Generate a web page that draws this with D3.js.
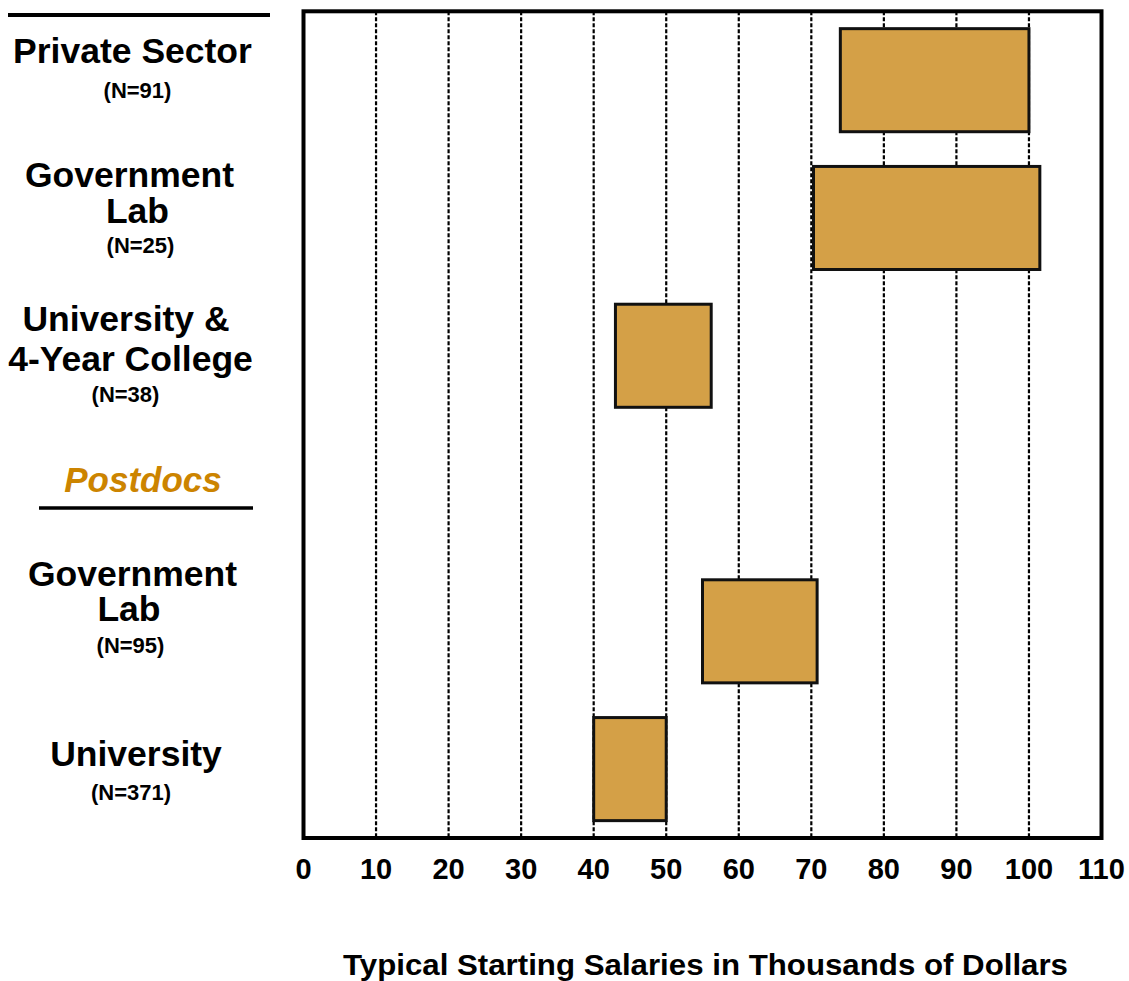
<!DOCTYPE html>
<meta charset="utf-8">
<style>
body{margin:0;background:#fff;}
svg text{font-family:"Liberation Sans",Arial,sans-serif;font-weight:bold;fill:#000;}
</style>
<svg id="chart" width="1129" height="981"></svg>
<script src="https://d3js.org/d3.v7.min.js"></script>
<script>
// salary ranges by employer type, thousands of dollars
const rows = ["private", "govlab", "univ", "postdocs", "pdGovlab", "pdUniv"]
const labelLines = [["Private Sector"], ["Government", "Lab"], ["University &", "4-Year College"], [], ["Government", "Lab"], ["University"]]
const sampleSizes = [91, 25, 38, null, 95, 371]
const lowValues = [74, 70.3, 43, null, 55, 40]
const highValues = [100, 101.5, 56.2, null, 70.8, 50]
const tickValues = [0, 10, 20, 30, 40, 50, 60, 70, 80, 90, 100, 110]

// layout of the label block beside each row (baseline offset from band centre, x centre)
const lineLayout = [
  [[-17, 132.5]],
  [[-30.5, 129.5], [5.5, 137.5]],
  [[-24.5, 126], [15.5, 130.5]],
  [],
  [[-45.5, 132.5], [-10.5, 129]],
  [[-3, 136]]
]
const nLayout = [[18, 137.5], [35.5, 140.5], [46.5, 125.5], null, [21.5, 130.5], [31, 131]]

let svg = d3.select('#chart')
let x = d3.scaleLinear().domain([0, 110]).range([303.5, 1101.5])
let y = d3.scaleBand().domain(rows).range([11.3, 838]).paddingInner(0.252).paddingOuter(0.126)
let mid = r => y(r) + y.bandwidth() / 2

// dotted grid
svg.append('g').selectAll('line').data(tickValues.slice(1, -1)).join('line')
  .attr('x1', d => x(d)).attr('x2', d => x(d))
  .attr('y1', 11.3).attr('y2', 838)
  .attr('stroke', '#000').attr('stroke-width', 2.2).attr('stroke-dasharray', '4,2')

// bars
let barData = rows.map((r, i) => ({r, lo: lowValues[i], hi: highValues[i]})).filter(d => d.lo != null)
svg.append('g').selectAll('rect').data(barData).join('rect')
  .attr('x', d => x(d.lo)).attr('width', d => x(d.hi) - x(d.lo))
  .attr('y', d => y(d.r)).attr('height', y.bandwidth())
  .attr('fill', '#d4a047').attr('stroke', '#111').attr('stroke-width', 3)

// frame
svg.append('rect')
  .attr('x', x(0)).attr('y', 11.3).attr('width', x(110) - x(0)).attr('height', 838 - 11.3)
  .attr('fill', 'none').attr('stroke', '#000').attr('stroke-width', 4)

// tick labels
svg.append('g').selectAll('text').data(tickValues).join('text')
  .attr('x', d => x(d)).attr('y', 879)
  .attr('text-anchor', 'middle').style('font-size', '29px')
  .text(d => d)

svg.append('text')
  .attr('x', 705.5).attr('y', 975).attr('text-anchor', 'middle')
  .attr('textLength', 725).attr('lengthAdjust', 'spacingAndGlyphs')
  .style('font-size', '30px')
  .text('Typical Starting Salaries in Thousands of Dollars')

// row labels
let lab = svg.append('g')
rows.forEach((r, i) => {
  labelLines[i].forEach((line, j) => {
    lab.append('text')
      .attr('x', lineLayout[i][j][1]).attr('y', mid(r) + lineLayout[i][j][0])
      .attr('text-anchor', 'middle').style('font-size', '35.5px')
      .text(line)
  })
  if (sampleSizes[i] != null) {
    lab.append('text')
      .attr('x', nLayout[i][1]).attr('y', mid(r) + nLayout[i][0])
      .attr('text-anchor', 'middle').style('font-size', '22px')
      .text(`(N=${sampleSizes[i]})`)
  }
})

// postdocs header and rules
lab.append('text')
  .attr('x', 143).attr('y', mid('postdocs') - 1.5)
  .attr('text-anchor', 'middle')
  .style('font-size', '35px').style('font-style', 'italic').style('fill', '#cc8400')
  .text('Postdocs')
lab.append('line').attr('x1', 8).attr('x2', 270).attr('y1', 15).attr('y2', 15)
  .attr('stroke', '#000').attr('stroke-width', 4)
lab.append('line').attr('x1', 39).attr('x2', 253).attr('y1', 508).attr('y2', 508)
  .attr('stroke', '#000').attr('stroke-width', 3.5)
</script>
